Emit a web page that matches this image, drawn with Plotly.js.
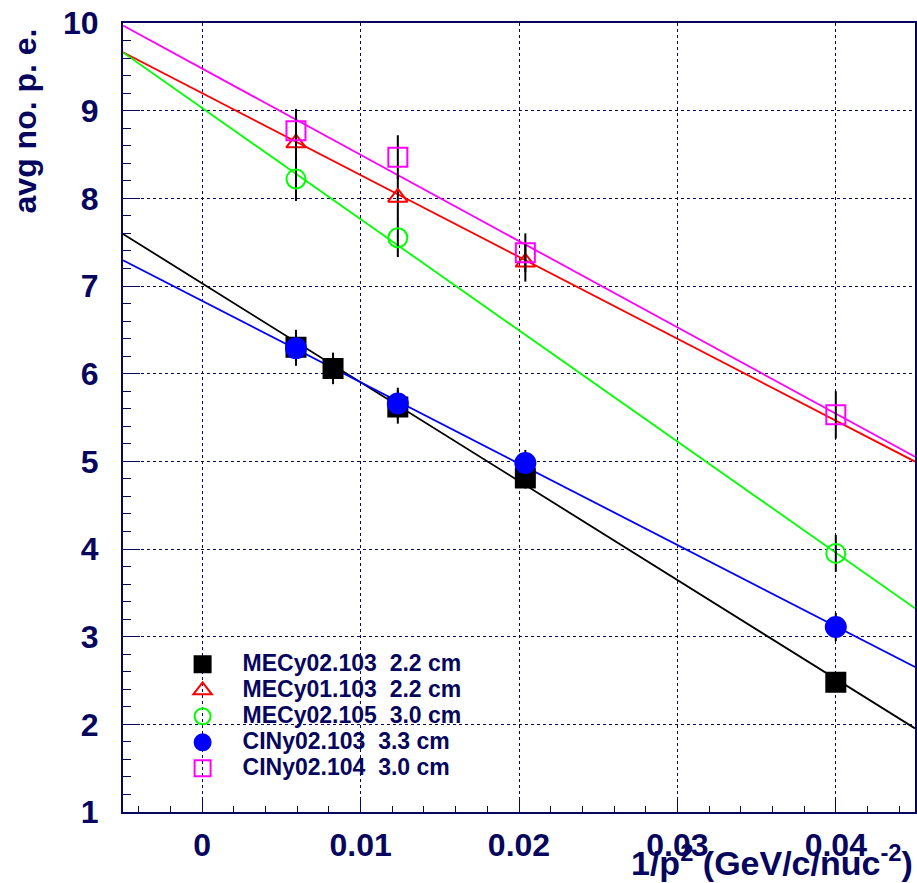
<!DOCTYPE html>
<html>
<head>
<meta charset="utf-8">
<script src="https://cdn.plot.ly/plotly-3.0.1.min.js"></script>
<style>
html,body{margin:0;padding:0;background:#fff;}
#chart{width:917px;height:883px;}
.legendtext{font-size:23px !important;}
</style>
</head>
<body>
<div id="chart"></div>
<script>
// ---- data ----
const seriesNames = ["MECy02.103\u00a0\u00a02.2 cm", "MECy01.103\u00a0\u00a02.2 cm", "MECy02.105\u00a0\u00a03.0 cm", "CINy02.103\u00a0\u00a03.3 cm", "CINy02.104\u00a0\u00a03.0 cm"];

const mec02_103_x = [0.00592, 0.00826, 0.01235, 0.0204, 0.04];
const mec02_103_y = [6.30, 6.06, 5.62, 4.81, 2.48];
const mec02_103_e = [0.20, 0.18, 0.19, 0.12, 0.10];

const mec01_103_x = [0.00592, 0.01235, 0.0204];
const mec01_103_y = [8.63, 8.01, 7.27];
const mec01_103_e = [0.30, 0.25, 0.22];

const mec02_105_x = [0.00592, 0.01235, 0.04];
const mec02_105_y = [8.22, 7.55, 3.95];
const mec02_105_e = [0.25, 0.22, 0.21];

const cin02_103_x = [0.00592, 0.01235, 0.0204, 0.04];
const cin02_103_y = [6.29, 5.66, 4.98, 3.11];
const cin02_103_e = [0.20, 0.18, 0.15, 0.16];

const cin02_104_x = [0.00592, 0.01235, 0.0204, 0.04];
const cin02_104_y = [8.77, 8.47, 7.38, 5.53];
const cin02_104_e = [0.25, 0.25, 0.22, 0.27];

// linear fit parameters: [intercept, slope]
const fit_mec02_103 = [7.03, -112.8];
const fit_mec01_103 = [9.20, -93.4];
const fit_mec02_105 = [9.03, -126.8];
const fit_cin02_103 = [6.83, -92.8];
const fit_cin02_104 = [9.48, -98.4];

const xRange = [-0.005, 0.045];
const yRange = [1, 10];

const NAVY = '#06065e';
const FONT = 'Liberation Sans, Arial, sans-serif';

function fitTrace(p, color) {
  return {
    x: xRange.slice(),
    y: xRange.map(v => p[0] + p[1] * v),
    mode: 'lines', type: 'scatter',
    line: {color: color, width: 1.8},
    showlegend: false, hoverinfo: 'skip'
  };
}
function dataTrace(x, y, e, name, symbol, color, size) {
  return {
    x: x, y: y, name: name, type: 'scatter', mode: 'markers',
    error_y: {type: 'data', array: e, visible: true, color: '#000', thickness: 2, width: 0},
    marker: {symbol: symbol, size: size, color: color, line: {color: color, width: 2}}
  };
}

const traces = [
  fitTrace(fit_mec02_103, '#000000'),
  fitTrace(fit_mec01_103, '#ff0000'),
  fitTrace(fit_mec02_105, '#00ff00'),
  fitTrace(fit_cin02_103, '#0000ff'),
  fitTrace(fit_cin02_104, '#ff00ff'),
  dataTrace(mec02_103_x, mec02_103_y, mec02_103_e, seriesNames[0], 'square', '#000000', 19),
  dataTrace(mec01_103_x, mec01_103_y, mec01_103_e, seriesNames[1], 'triangle-up-open', '#ff0000', 17),
  dataTrace(mec02_105_x, mec02_105_y, mec02_105_e, seriesNames[2], 'circle-open', '#00ff00', 19),
  dataTrace(cin02_103_x, cin02_103_y, cin02_103_e, seriesNames[3], 'circle', '#0000ff', 20),
  dataTrace(cin02_104_x, cin02_104_y, cin02_104_e, seriesNames[4], 'square-open', '#ff00ff', 19)
];

const axisCommon = {
  showline: true, mirror: true, linecolor: NAVY, linewidth: 2,
  showgrid: true, gridcolor: NAVY, gridwidth: 1, griddash: 'dot',
  zeroline: false, ticks: 'inside', tickcolor: NAVY, tickwidth: 1,
  tickfont: {family: FONT, size: 32, color: NAVY, weight: 'bold'}
};

const layout = {
  width: 917, height: 883,
  margin: {l: 123, r: 2, t: 23, b: 71},
  paper_bgcolor: '#fff', plot_bgcolor: '#fff',
  showlegend: true,
  legend: {
    x: 0.05, y: 0.21, xanchor: 'left', yanchor: 'top',
    bgcolor: 'rgba(0,0,0,0)', borderwidth: 0,
    itemwidth: 70, tracegroupgap: 0,
    font: {family: FONT, size: 17.7, color: NAVY, weight: 'bold'}
  },
  xaxis: Object.assign({}, axisCommon, {
    range: xRange, tickmode: 'linear', tick0: 0, dtick: 0.01, ticklen: 14,
    ticklabelstandoff: 4,
    minor: {dtick: 0.002, tick0: 0, ticks: 'inside', ticklen: 6, tickcolor: NAVY, showgrid: false}
  }),
  yaxis: Object.assign({}, axisCommon, {
    range: yRange, tickmode: 'linear', tick0: 0, dtick: 1, ticklen: 17,
    ticklabelstandoff: 16,
    minor: {dtick: 0.2, tick0: 0, ticks: 'inside', ticklen: 8, tickcolor: NAVY, showgrid: false}
  }),
  annotations: [
    {text: '1/p<sup>2</sup> (GeV/c/nuc<sup>-2</sup>)', xref: 'paper', yref: 'paper',
     x: 1, y: -0.062, xanchor: 'right', yanchor: 'middle', showarrow: false,
     font: {family: FONT, size: 34, color: NAVY, weight: 'bold'}},
    {text: 'avg no. p. e.', xref: 'paper', yref: 'paper', textangle: -90,
     x: -0.124, y: 0.996, xanchor: 'center', yanchor: 'top', showarrow: false,
     font: {family: FONT, size: 32, color: NAVY, weight: 'bold'}}
  ]
};

Plotly.newPlot('chart', traces, layout, {staticPlot: true, displayModeBar: false});
</script>
</body>
</html>
